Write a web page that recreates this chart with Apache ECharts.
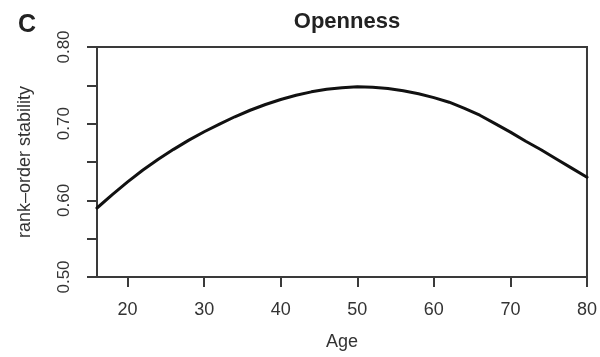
<!DOCTYPE html>
<html>
<head>
<meta charset="utf-8">
<script src="https://cdn.jsdelivr.net/npm/echarts@6/dist/echarts.min.js"></script>
<style>
  html, body { margin: 0; padding: 0; background: #fff; }
  #chart { width: 600px; height: 357px; }
</style>
</head>
<body>
<div id="chart"></div>
<script>
// Rank-order stability of Openness across the lifespan
const ages = [16, 18, 20, 22, 24, 26, 28, 30, 32, 34, 36, 38, 40, 42, 44, 46, 48,
              50, 52, 54, 56, 58, 60, 62, 64, 66, 68, 70, 72, 74, 76, 78, 80];
const stability = [0.5900, 0.6075, 0.6240, 0.6395, 0.6535, 0.6665, 0.6785, 0.6895, 0.6995, 0.7090, 0.7175, 0.7250, 0.7315, 0.7370, 0.7415, 0.7450, 0.7470,
                   0.7480, 0.7475, 0.7460, 0.7430, 0.7390, 0.7340, 0.7280, 0.7200, 0.7110, 0.7000, 0.6890, 0.6770, 0.6660, 0.6540, 0.6420, 0.6300];

const xTicks = [20, 30, 40, 50, 60, 70, 80];
const yTicks = [0.50, 0.55, 0.60, 0.65, 0.70, 0.75, 0.80];
const yLabels = [0.50, 0.60, 0.70, 0.80];

const ink = '#3a3a3a';
const font = 'Liberation Sans, Arial, Helvetica, sans-serif';

const chart = echarts.init(document.getElementById('chart'), null, { renderer: 'canvas' });

chart.setOption({
  animation: false,
  backgroundColor: '#fff',
  title: [
    {
      text: 'Openness',
      left: 342, top: 6, textAlign: 'center',
      textStyle: { fontFamily: font, fontWeight: 'bold', fontSize: 22, color: '#222' }
    },
    {
      text: 'C',
      left: 13, top: 8,
      textStyle: { fontFamily: font, fontWeight: 'bold', fontSize: 25, color: '#222' }
    }
  ],
  grid: {
    left: 97, right: 13, top: 47, bottom: 80,
    show: true, borderColor: ink, borderWidth: 2, backgroundColor: 'transparent'
  },
  xAxis: {
    type: 'value',
    min: 16, max: 80,
    name: 'Age',
    nameLocation: 'middle',
    nameGap: 56,
    nameTextStyle: { fontFamily: font, fontSize: 18, color: '#333' },
    axisLine: { show: true, lineStyle: { color: ink, width: 2 } },
    axisTick: { show: true, length: 10, lineStyle: { color: ink, width: 2 }, customValues: xTicks },
    axisLabel: { fontFamily: font, fontSize: 18, color: '#333', margin: 24, customValues: xTicks },
    splitLine: { show: false }
  },
  yAxis: {
    type: 'value',
    min: 0.5, max: 0.8,
    name: 'rank–order stability',
    nameLocation: 'middle',
    nameRotate: 90,
    nameGap: 63,
    nameTextStyle: { fontFamily: font, fontSize: 18, color: '#333' },
    axisLine: { show: true, lineStyle: { color: ink, width: 2 } },
    axisTick: { show: true, length: 10, lineStyle: { color: ink, width: 2 }, customValues: yTicks },
    axisLabel: {
      fontFamily: font, fontSize: 17, color: '#333', rotate: 90, margin: 24,
      customValues: yLabels,
      formatter: v => v.toFixed(2)
    },
    splitLine: { show: false }
  },
  series: [{
    type: 'line',
    data: ages.map((a, i) => [a, stability[i]]),
    smooth: false,
    showSymbol: false,
    lineStyle: { color: '#111', width: 3, join: 'round', cap: 'round' },
    clip: true
  }]
});
</script>
</body>
</html>
